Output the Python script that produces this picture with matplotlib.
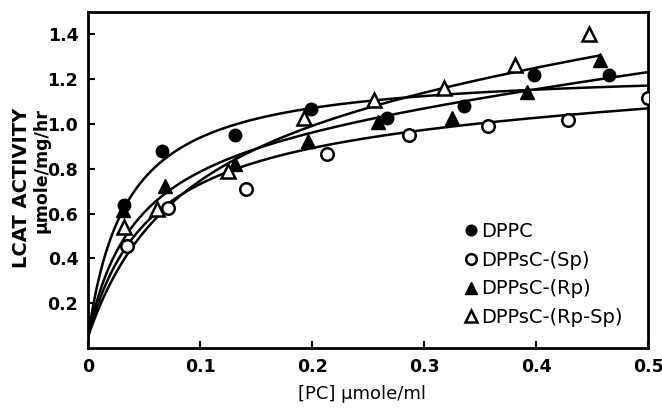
import matplotlib.pyplot as plt
import numpy as np

dppc_x = [0.032, 0.066, 0.131, 0.199, 0.267, 0.336, 0.398, 0.465]
dppc_y = [0.64, 0.88, 0.95, 1.065, 1.025, 1.08, 1.22, 1.22]

sp_x = [0.035, 0.071, 0.141, 0.2135, 0.287, 0.357, 0.429, 0.500]
sp_y = [0.455, 0.625, 0.71, 0.865, 0.951, 0.991, 1.016, 1.114]

rp_x = [0.031, 0.069, 0.131, 0.196, 0.259, 0.325, 0.392, 0.457]
rp_y = [0.615, 0.724, 0.82, 0.924, 1.01, 1.025, 1.144, 1.287]

rpsp_x = [0.032, 0.062, 0.125, 0.193, 0.255, 0.318, 0.381, 0.447]
rpsp_y = [0.542, 0.62, 0.79, 1.028, 1.105, 1.159, 1.262, 1.403]

# fitted curves: y = c + V*x/(K+x) + m*x  (c, V, K, m, x_end)
fit_dppc = (0.05, 1.20, 0.035, 0.0, 0.5)
fit_rpsp = (0.05, 1.158, 0.082, 0.6, 0.457)
fit_rp = (0.05, 0.954, 0.041, 0.6, 0.5)
fit_sp = (0.05, 1.019, 0.054, 0.2, 0.5)

labels = ["DPPC", "DPPsC-(Sp)", "DPPsC-(Rp)", "DPPsC-(Rp-Sp)"]


def curve(p):
    c, v, k, m, xe = p
    x = np.linspace(0, xe, 300)
    return x, c + v * x / (k + x) + m * x


fig = plt.figure(figsize=(6.62, 4.12), dpi=100)
ax = fig.add_axes([88 / 662, 1 - 348 / 412, 560 / 662, 336 / 412])

for p in [fit_dppc, fit_rpsp, fit_rp, fit_sp]:
    x, y = curve(p)
    ax.plot(x, y, color="black", lw=1.8, zorder=2)

ms = 9
ax.plot(dppc_x, dppc_y, "o", color="black", ms=ms, ls="none", label=labels[0], zorder=3)
ax.plot(sp_x, sp_y, "o", mfc="white", mec="black", mew=1.8, ms=ms, ls="none",
        label=labels[1], zorder=3)
ax.plot(rp_x, rp_y, "^", color="black", ms=ms + 1, ls="none", label=labels[2], zorder=3)
ax.plot(rpsp_x, rpsp_y, "^", mfc="white", mec="black", mew=1.8, ms=ms + 1, ls="none",
        label=labels[3], zorder=3)

ax.set_xlim(0, 0.5)
ax.set_ylim(0, 1.5)
ax.set_xticks([0, 0.1, 0.2, 0.3, 0.4, 0.5])
ax.set_xticklabels(["0", "0.1", "0.2", "0.3", "0.4", "0.5"])
ax.set_yticks([0.2, 0.4, 0.6, 0.8, 1.0, 1.2, 1.4])
ax.tick_params(direction="in", length=5, width=1.5, labelsize=12.5, pad=7)
for t in ax.get_xticklabels() + ax.get_yticklabels():
    t.set_fontweight("bold")
for s in ax.spines.values():
    s.set_linewidth(2)

leg = ax.legend(loc="upper left", bbox_to_anchor=(0.668, 0.375), frameon=False,
                fontsize=14, handletextpad=0.1, labelspacing=0.5, handlelength=0.9,
                borderaxespad=0, borderpad=0, markerscale=0.85)

fig.text(22 / 662, 1 - 188 / 412, "LCAT ACTIVITY", rotation=90, ha="center", va="center",
         fontsize=14, fontweight="bold")
fig.text(41 / 662, 1 - 171 / 412, "μmole/mg/hr", rotation=90, ha="center", va="center",
         fontsize=12.5, fontweight="bold")
fig.text(362 / 662, 1 - 394 / 412, "[PC] μmole/ml", ha="center", va="center", fontsize=13)

fig.savefig("out.png", dpi=100)
